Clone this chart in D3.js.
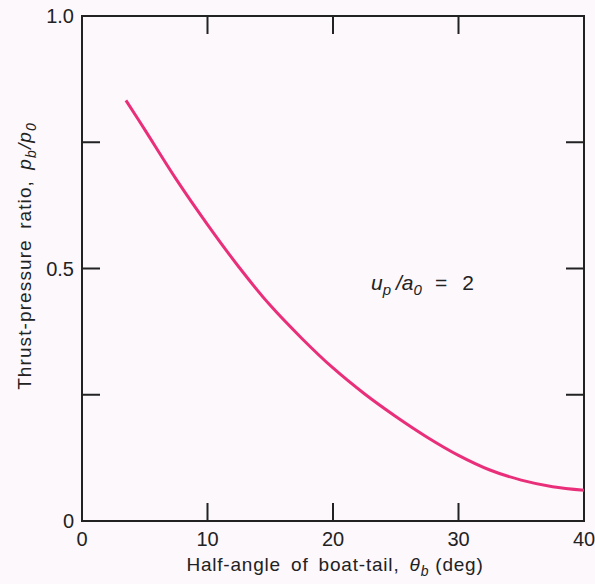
<!DOCTYPE html>
<html>
<head>
<meta charset="utf-8">
<script src="https://cdn.jsdelivr.net/npm/d3@7"></script>
<style>
  body { margin: 0; background: #fcf8fc; }
  svg { display: block; font-family: "Liberation Sans", Arial, sans-serif; }
</style>
</head>
<body>
<div id="chart"></div>
<script>
// half-angle of boat-tail (deg) and thrust-pressure ratio
let theta = [3.5, 5, 7.5, 10, 12.5, 15, 17.5, 20, 22.5, 25, 27.5, 30, 32.5, 35, 37.5, 40];
let ratio = [0.833, 0.775, 0.677, 0.587, 0.503, 0.427, 0.362, 0.303, 0.252, 0.207, 0.166, 0.13, 0.101, 0.081, 0.068, 0.061];

let xTicks = [0, 10, 20, 30, 40];
let yTicks = [0, 0.25, 0.5, 0.75, 1.0];
let yLabels = ["0", "", "0.5", "", "1.0"];

let width = 595, height = 584;
let margin = {top: 16, right: 11, bottom: 63, left: 82};

let svg = d3.select("#chart").append("svg")
    .attr("width", width)
    .attr("height", height);

let x = d3.scaleLinear().domain([0, 40]).range([margin.left, width - margin.right]);
let y = d3.scaleLinear().domain([0, 1]).range([height - margin.bottom, margin.top]);

let tickLen = 18;
let ink = "#222";

// frame
svg.append("rect")
    .attr("x", x(0)).attr("y", y(1))
    .attr("width", x(40) - x(0)).attr("height", y(0) - y(1))
    .attr("fill", "none").attr("stroke", ink).attr("stroke-width", 2);

// inward ticks on all four sides
let inner = xTicks.slice(1, -1);
svg.append("g").selectAll("line").data(inner).enter().append("line")
    .attr("x1", d => x(d)).attr("x2", d => x(d))
    .attr("y1", y(0)).attr("y2", y(0) - tickLen)
    .attr("stroke", ink).attr("stroke-width", 2);
svg.append("g").selectAll("line").data(inner).enter().append("line")
    .attr("x1", d => x(d)).attr("x2", d => x(d))
    .attr("y1", y(1)).attr("y2", y(1) + tickLen)
    .attr("stroke", ink).attr("stroke-width", 2);
let innerY = yTicks.slice(1, -1);
svg.append("g").selectAll("line").data(innerY).enter().append("line")
    .attr("x1", x(0)).attr("x2", x(0) + tickLen)
    .attr("y1", d => y(d)).attr("y2", d => y(d))
    .attr("stroke", ink).attr("stroke-width", 2);
svg.append("g").selectAll("line").data(innerY).enter().append("line")
    .attr("x1", x(40)).attr("x2", x(40) - tickLen)
    .attr("y1", d => y(d)).attr("y2", d => y(d))
    .attr("stroke", ink).attr("stroke-width", 2);

// tick labels
svg.append("g").selectAll("text").data(xTicks).enter().append("text")
    .attr("x", d => x(d)).attr("y", y(0) + 25)
    .attr("text-anchor", "middle")
    .attr("font-size", 20).attr("fill", ink)
    .text(d => d);
svg.append("g").selectAll("text").data(yTicks).enter().append("text")
    .attr("x", x(0) - 8).attr("y", d => y(d) + 7)
    .attr("text-anchor", "end")
    .attr("font-size", 20).attr("fill", ink)
    .text((d, i) => yLabels[i]);

// axis titles
let xt = svg.append("text")
    .attr("x", (x(0) + x(40)) / 2 + 2).attr("y", height - 13)
    .attr("text-anchor", "middle")
    .attr("font-size", 19).attr("letter-spacing", 0.8).attr("word-spacing", 4)
    .attr("fill", ink);
xt.append("tspan").text("Half-angle of boat-tail, ");
xt.append("tspan").attr("font-style", "italic").text("θ");
xt.append("tspan").attr("font-style", "italic").attr("font-size", 14).attr("dy", 5).text("b");
xt.append("tspan").attr("dy", -5).attr("dx", 6).text("(deg)");

let yt = svg.append("text")
    .attr("transform", "translate(31, 256) rotate(-90)")
    .attr("text-anchor", "middle")
    .attr("font-size", 19).attr("letter-spacing", 1.1).attr("word-spacing", 4)
    .attr("fill", ink);
yt.append("tspan").text("Thrust-pressure ratio, ");
yt.append("tspan").attr("font-style", "italic").text("p");
yt.append("tspan").attr("font-style", "italic").attr("font-size", 14).attr("dy", 5).text("b");
yt.append("tspan").attr("font-style", "italic").attr("dy", -5).text("/p");
yt.append("tspan").attr("font-style", "italic").attr("font-size", 14).attr("dy", 5).text("0");

// curve
let line = d3.line()
    .x((d, i) => x(theta[i]))
    .y((d, i) => y(ratio[i]))
    .curve(d3.curveCatmullRom);

svg.append("path")
    .datum(ratio)
    .attr("d", line)
    .attr("fill", "none")
    .attr("stroke", "#ea2f7a")
    .attr("stroke-width", 3);

// annotation
let ann = svg.append("text")
    .attr("x", 371).attr("y", 290)
    .attr("font-size", 21).attr("fill", ink);
ann.append("tspan").attr("font-style", "italic").text("u");
ann.append("tspan").attr("font-style", "italic").attr("font-size", 15).attr("dy", 5).text("p");
ann.append("tspan").attr("font-style", "italic").attr("dy", -5).attr("dx", 5).text("/a");
ann.append("tspan").attr("font-style", "italic").attr("font-size", 15).attr("dy", 5).text("0");
ann.append("tspan").attr("dy", -5).attr("dx", 13).text("=");
ann.append("tspan").attr("dx", 15).text("2");
</script>
</body>
</html>
